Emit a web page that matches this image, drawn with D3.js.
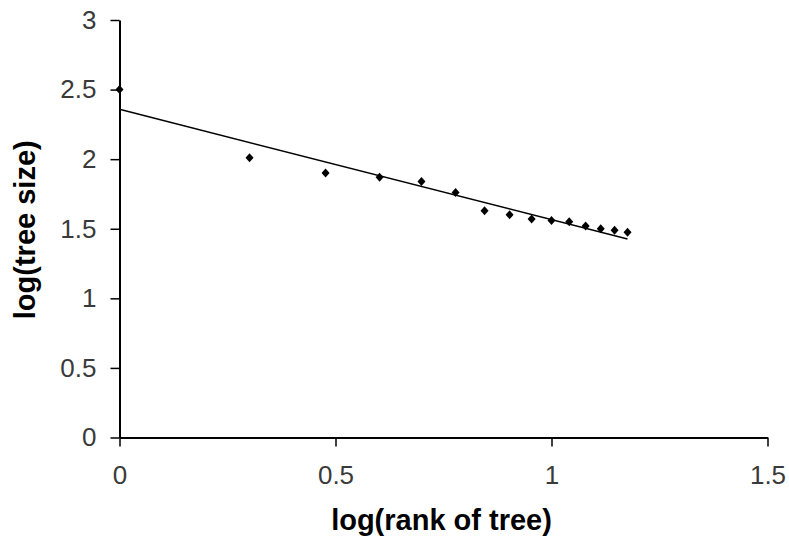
<!DOCTYPE html>
<html>
<head>
<meta charset="utf-8">
<script src="https://cdn.jsdelivr.net/npm/d3@7/dist/d3.min.js"></script>
<style>
  html, body { margin: 0; padding: 0; background: #fff; }
  svg { display: block; }
  .tick text { font-family: "Liberation Sans", Arial, sans-serif; font-size: 26px; fill: #3a3a3a; }
</style>
</head>
<body>
<script>
// Data
const xValues = [0, 0.301, 0.477, 0.602, 0.699, 0.778, 0.845, 0.903, 0.954, 1.0, 1.041, 1.079, 1.114, 1.146, 1.176];
const yValues = [2.50, 2.01, 1.90, 1.87, 1.84, 1.76, 1.63, 1.60, 1.57, 1.56, 1.55, 1.52, 1.50, 1.49, 1.475];
const xTicks = [0, 0.5, 1, 1.5];
const yTicks = [0, 0.5, 1, 1.5, 2, 2.5, 3];
const xTitle = "log(rank of tree)";
const yTitle = "log(tree size)";

const W = 789, H = 546;
const margin = { left: 119.5, right: W - 767.5, top: 20, bottom: H - 437.5 };

const svg = d3.select("body").append("svg").attr("width", W).attr("height", H);

const x = d3.scaleLinear().domain([0, 1.5]).range([margin.left, W - margin.right]);
const y = d3.scaleLinear().domain([0, 3]).range([H - margin.bottom, margin.top]);

// axes
const xAxis = svg.append("g").attr("transform", `translate(0,${y(0)})`)
  .call(d3.axisBottom(x).tickValues(xTicks).tickFormat(d3.format("")).tickSize(9).tickPadding(19).tickSizeOuter(0));
const yAxis = svg.append("g").attr("transform", `translate(${x(0)},0)`)
  .call(d3.axisLeft(y).tickValues(yTicks).tickFormat(d3.format("")).tickSize(9).tickPadding(14).tickSizeOuter(0));
[xAxis, yAxis].forEach(g => {
  g.select(".domain").attr("stroke", "#000").attr("stroke-width", 2);
  g.selectAll(".tick line").attr("stroke", "#000").attr("stroke-width", 1.5);
});

// linear trendline (least squares fit of the data)
const n = xValues.length;
const mx = d3.mean(xValues), my = d3.mean(yValues);
let sxy = 0, sxx = 0;
for (let i = 0; i < n; i++) { sxy += (xValues[i] - mx) * (yValues[i] - my); sxx += (xValues[i] - mx) ** 2; }
const slope = sxy / sxx, intercept = my - slope * mx;
const xMax = d3.max(xValues);
svg.append("line")
  .attr("x1", x(0)).attr("y1", y(intercept))
  .attr("x2", x(xMax)).attr("y2", y(intercept + slope * xMax))
  .attr("stroke", "#000").attr("stroke-width", 1.5);

// points (diamonds)
const pts = xValues.map((v, i) => [v, yValues[i]]);
svg.append("g").selectAll("path").data(pts).join("path")
  .attr("transform", d => `translate(${x(d[0])},${y(d[1])})`)
  .attr("d", "M0,-4.5L4,0L0,4.5L-4,0Z")
  .attr("fill", "#000");

// titles
svg.append("text")
  .attr("x", (x(0) + x(1.5)) / 2 - 2).attr("y", 530)
  .attr("text-anchor", "middle")
  .style("font-family", "'Liberation Sans', Arial, sans-serif")
  .style("font-weight", "bold").style("font-size", "29px").attr("fill", "#000")
  .text(xTitle);
svg.append("text")
  .attr("transform", `translate(35,${(y(0) + y(3)) / 2 + 1}) rotate(-90)`)
  .attr("text-anchor", "middle")
  .style("font-family", "'Liberation Sans', Arial, sans-serif")
  .style("font-weight", "bold").style("font-size", "29px").attr("fill", "#000")
  .text(yTitle);
</script>
</body>
</html>
